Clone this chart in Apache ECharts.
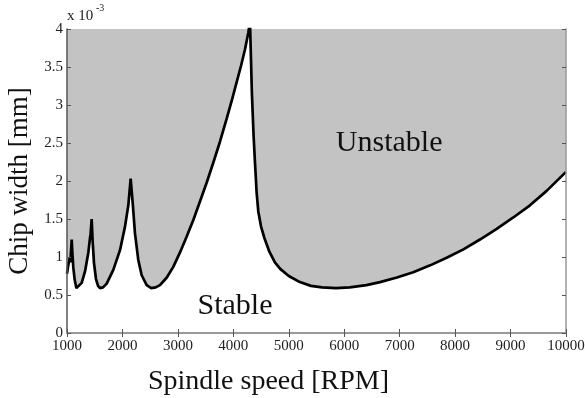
<!DOCTYPE html>
<html>
<head>
<meta charset="utf-8">
<script src="https://cdn.jsdelivr.net/npm/echarts@6/dist/echarts.min.js"></script>
<style>html,body{margin:0;padding:0;background:#fff}#c{width:585px;height:398px}</style>
</head>
<body>
<div id="c"></div>
<script>
// Spindle speed [RPM]
const speeds = [1000,1020,1050,1060,1085,1096,1114,1139,1170,1200,1265,1325,1385,1415,1425,1445,1463,1487,1523,1560,1595,1650,1716,1835,1956,2046,2106,2148,2185,2226,2286,2347,2437,2520,2600,2677,2800,2917,3038,3159,3280,3398,3520,3638,3760,3880,3980,4060,4140,4210,4270,4300,4335,4365,4390,4420,4450,4500,4560,4650,4750,4850,5000,5200,5400,5600,5850,6100,6400,6645,6950,7245,7550,7847,8150,8448,8750,9049,9350,9651,10000];
// Chip width limit [x10^-3 mm]
const widths = [0.78,0.88,0.99,0.93,1.23,1.06,0.86,0.70,0.59,0.60,0.66,0.81,1.06,1.25,1.30,1.50,1.20,0.92,0.71,0.62,0.59,0.60,0.65,0.83,1.09,1.40,1.68,2.03,1.71,1.31,0.96,0.76,0.63,0.59,0.60,0.63,0.73,0.87,1.06,1.27,1.49,1.73,1.98,2.24,2.52,2.82,3.08,3.30,3.52,3.73,3.95,4.10,3.15,2.60,2.25,1.85,1.60,1.40,1.25,1.07,0.93,0.84,0.75,0.67,0.62,0.60,0.59,0.60,0.63,0.67,0.73,0.80,0.89,0.99,1.10,1.23,1.37,1.52,1.68,1.87,2.12];
const xTicks = [1000,2000,3000,4000,5000,6000,7000,8000,9000,10000];
const yTicks = [0,0.5,1,1.5,2,2.5,3,3.5,4];

const data = speeds.map((s, i) => [s, widths[i]]);
const font = 'Liberation Serif';
const chart = echarts.init(document.getElementById('c'));
const tickStyle = {show: true, inside: true, length: 4, lineStyle: {color: '#555', width: 1}};
chart.setOption({
  animation: false,
  grid: {left: 67, right: 19, top: 29, bottom: 65, show: true, backgroundColor: '#c3c3c3', borderWidth: 0,
    containLabel: false, outerBoundsMode: 'none'},
  xAxis: [{
    type: 'value', min: 1000, max: 10000, interval: 1000, position: 'bottom', z: 10,
    axisLine: {show: true, lineStyle: {color: '#555', width: 1.5}},
    axisTick: tickStyle, splitLine: {show: false},
    axisLabel: {fontFamily: font, fontSize: 15, color: '#222', margin: 6,
      formatter: v => xTicks.includes(v) ? String(v) : ''},
    name: 'Spindle speed [RPM]', nameLocation: 'middle', nameGap: 35,
    nameTextStyle: {fontFamily: font, fontSize: 28, color: '#111', padding: [0, 96, 0, 0]}
  }, {
    type: 'value', min: 1000, max: 10000, interval: 1000, position: 'top', z: 10,
    axisLine: {show: true, lineStyle: {color: '#999', width: 2}},
    axisTick: tickStyle, axisLabel: {show: false}, splitLine: {show: false}
  }],
  yAxis: [{
    type: 'value', min: 0, max: 4, interval: 0.5, position: 'left', z: 10,
    axisLine: {show: true, lineStyle: {color: '#555', width: 1.5}},
    axisTick: tickStyle, splitLine: {show: false},
    axisLabel: {fontFamily: font, fontSize: 15, color: '#222', margin: 4,
      formatter: v => yTicks.includes(v) ? String(v) : ''},
    name: 'Chip width [mm]', nameLocation: 'middle', nameGap: 32, nameRotate: 90,
    nameTextStyle: {fontFamily: font, fontSize: 27, color: '#111'}
  }, {
    type: 'value', min: 0, max: 4, interval: 0.5, position: 'right', z: 10,
    axisLine: {show: true, lineStyle: {color: '#999', width: 1.5}},
    axisTick: tickStyle, axisLabel: {show: false}, splitLine: {show: false}
  }],
  graphic: [
    {type: 'text', left: 67, top: 9, style: {text: 'x 10', fontFamily: font, fontSize: 15, fill: '#222'}},
    {type: 'text', left: 96, top: 3, style: {text: '-3', fontFamily: font, fontSize: 10, fill: '#222'}}
  ],
  series: [{
    type: 'line', data: data, xAxisIndex: 0, yAxisIndex: 0,
    showSymbol: false, smooth: false, clip: true,
    lineStyle: {color: '#000', width: 2.7},
    areaStyle: {color: '#ffffff', opacity: 1, origin: 'start'},
    markPoint: {
      symbol: 'rect', symbolSize: 0,
      label: {show: true, fontFamily: font, fontSize: 30, color: '#111'},
      data: [
        {name: 'Unstable', coord: [6810, 2.5], value: 'Unstable', label: {formatter: 'Unstable'}},
        {name: 'Stable', coord: [4030, 0.35], value: 'Stable', label: {formatter: 'Stable'}}
      ]
    }
  }]
});
</script>
</body>
</html>
